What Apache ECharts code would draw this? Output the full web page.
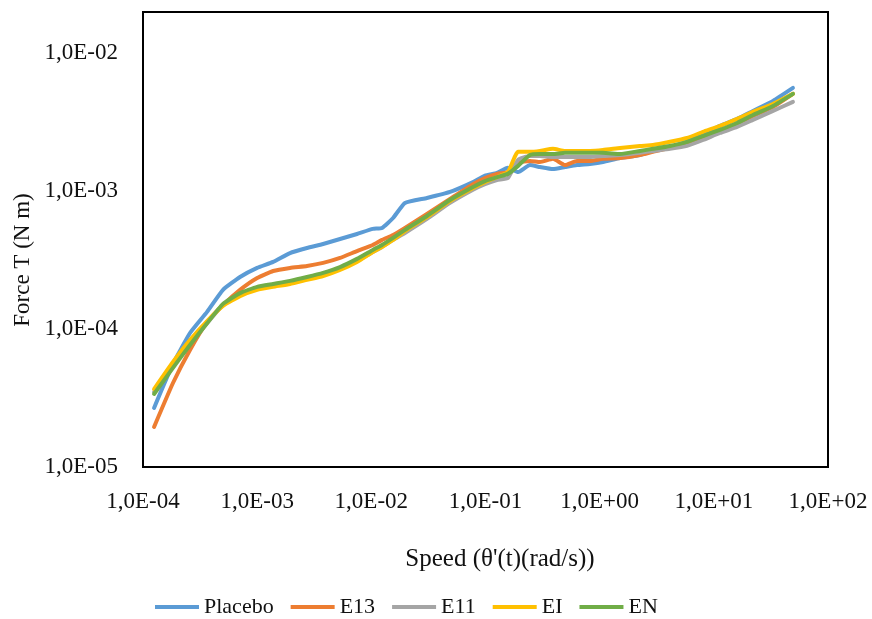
<!DOCTYPE html>
<html>
<head>
<meta charset="utf-8">
<script src="https://cdn.jsdelivr.net/npm/echarts@6/dist/echarts.min.js"></script>
<style>
html,body{margin:0;padding:0;background:#fff;}
#chart{width:872px;height:619px;}
</style>
</head>
<body>
<div id="chart"></div>
<script>
// Speed (rad/s) sample points
var speed = [1.25e-4, 1.83e-4, 2.58e-4, 3.64e-4, 5.02e-4, 7.08e-4, 1.0e-3, 1.38e-3, 1.94e-3, 2.73e-3,
  3.78e-3, 5.32e-3, 7.49e-3, 1.03e-2, 1.24e-2, 1.55e-2, 1.97e-2, 3.07e-2, 4.89e-2, 7.77e-2,
  9.9e-2, 0.126, 0.157, 0.193, 0.245, 0.300, 0.390, 0.497, 0.632, 0.822,
  1.07, 1.51, 2.25, 2.93, 4.13, 5.82, 8.04, 11.3, 16.0, 22.0, 33.0, 49.3];

var placebo = [2.68e-5, 5.58e-5, 9.35e-5, 1.33e-4, 1.92e-4, 2.38e-4, 2.77e-4, 3.06e-4, 3.55e-4, 3.86e-4,
  4.13e-4, 4.49e-4, 4.88e-4, 5.31e-4, 5.40e-4, 6.37e-4, 8.19e-4, 8.90e-4, 9.84e-4, 1.16e-3,
  1.29e-3, 1.35e-3, 1.47e-3, 1.37e-3, 1.54e-3, 1.49e-3, 1.44e-3, 1.49e-3, 1.54e-3, 1.57e-3,
  1.62e-3, 1.73e-3, 1.82e-3, 1.95e-3, 2.08e-3, 2.27e-3, 2.55e-3, 2.96e-3, 3.33e-3, 3.80e-3, 4.49e-3, 5.58e-3];

var e13 = [1.95e-5, 4.06e-5, 7.04e-5, 1.12e-4, 1.49e-4, 1.92e-4, 2.34e-4, 2.63e-4, 2.77e-4, 2.86e-4,
  3.01e-4, 3.27e-4, 3.67e-4, 4.06e-4, 4.42e-4, 4.80e-4, 5.40e-4, 6.81e-4, 8.75e-4, 1.12e-3,
  1.24e-3, 1.33e-3, 1.37e-3, 1.60e-3, 1.65e-3, 1.62e-3, 1.71e-3, 1.54e-3, 1.65e-3, 1.65e-3,
  1.71e-3, 1.73e-3, 1.82e-3, 1.92e-3, 2.05e-3, 2.23e-3, 2.46e-3, 2.72e-3, 3.06e-3, 3.50e-3, 4.06e-3, 5.05e-3];

var e11 = [3.50e-5, 5.40e-5, 7.79e-5, 1.10e-4, 1.49e-4, 1.79e-4, 1.98e-4, 2.08e-4, 2.19e-4, 2.30e-4,
  2.46e-4, 2.72e-4, 3.11e-4, 3.61e-4, 3.93e-4, 4.42e-4, 4.96e-4, 6.27e-4, 8.19e-4, 1.02e-3,
  1.12e-3, 1.20e-3, 1.24e-3, 1.68e-3, 1.79e-3, 1.79e-3, 1.76e-3, 1.76e-3, 1.76e-3, 1.76e-3,
  1.79e-3, 1.82e-3, 1.89e-3, 1.95e-3, 2.02e-3, 2.12e-3, 2.34e-3, 2.63e-3, 2.91e-3, 3.27e-3, 3.80e-3, 4.42e-3];

var ei = [3.67e-5, 5.77e-5, 8.32e-5, 1.14e-4, 1.47e-4, 1.73e-4, 1.92e-4, 2.02e-4, 2.12e-4, 2.27e-4,
  2.42e-4, 2.68e-4, 3.06e-4, 3.61e-4, 3.93e-4, 4.42e-4, 5.13e-4, 6.48e-4, 8.46e-4, 1.05e-3,
  1.16e-3, 1.26e-3, 1.37e-3, 1.92e-3, 1.92e-3, 1.95e-3, 2.02e-3, 1.95e-3, 1.95e-3, 1.95e-3,
  1.98e-3, 2.05e-3, 2.12e-3, 2.15e-3, 2.27e-3, 2.42e-3, 2.68e-3, 2.96e-3, 3.33e-3, 3.74e-3, 4.27e-3, 5.05e-3];

var en = [3.38e-5, 5.22e-5, 7.66e-5, 1.10e-4, 1.52e-4, 1.82e-4, 2.02e-4, 2.12e-4, 2.23e-4, 2.38e-4,
  2.55e-4, 2.81e-4, 3.22e-4, 3.74e-4, 4.06e-4, 4.57e-4, 5.22e-4, 6.59e-4, 8.61e-4, 1.07e-3,
  1.18e-3, 1.26e-3, 1.33e-3, 1.52e-3, 1.82e-3, 1.85e-3, 1.85e-3, 1.89e-3, 1.89e-3, 1.89e-3,
  1.89e-3, 1.85e-3, 1.95e-3, 2.02e-3, 2.12e-3, 2.27e-3, 2.50e-3, 2.77e-3, 3.11e-3, 3.55e-3, 4.13e-3, 5.05e-3];

var seriesNames = ['Placebo', 'E13', 'E11', 'EI', 'EN'];
var seriesData = [placebo, e13, e11, ei, en];
var seriesColors = ['#5B9BD5', '#ED7D31', '#A5A5A5', '#FFC000', '#70AD47'];

var xTitle = "Speed (\u03B8'(t)(rad/s))";
var yTitle = 'Force T (N m)';

var FONT = '"Liberation Serif", "Times New Roman", serif';

function fmtPow(v) {
  var l = Math.log10(v);
  var e = Math.round(l);
  if (Math.abs(l - e) > 1e-6) return '';
  var a = Math.abs(e);
  return '1,0E' + (e < 0 ? '-' : '+') + (a < 10 ? '0' : '') + a;
}

function pairs(xs, ys) {
  var out = [];
  for (var i = 0; i < xs.length; i++) out.push([xs[i], ys[i]]);
  return out;
}

var chart = echarts.init(document.getElementById('chart'), null, {renderer: 'canvas'});
var option = {
  backgroundColor: '#ffffff',
  animation: false,
  grid: {
    left: 143, right: 44, top: 12, bottom: 152,
    show: true, borderColor: '#000000', borderWidth: 2, backgroundColor: 'transparent'
  },
  xAxis: {
    type: 'log', logBase: 10, min: 1e-4, max: 1e2,
    axisLine: {show: false}, axisTick: {show: false}, splitLine: {show: false},
    axisLabel: {formatter: fmtPow, fontFamily: FONT, fontSize: 23, color: '#111', margin: 23,
      showMinLabel: true, showMaxLabel: true}
  },
  yAxis: {
    type: 'log', logBase: 10, min: 1e-5, max: 0.0198,
    axisLine: {show: false}, axisTick: {show: false}, splitLine: {show: false},
    axisLabel: {formatter: fmtPow, fontFamily: FONT, fontSize: 23, color: '#111', margin: 25,
      showMinLabel: true, showMaxLabel: true}
  },
  legend: {
    left: 150, top: 591,
    icon: 'rect',
    itemWidth: 44, itemHeight: 4, itemGap: 17,
    textStyle: {fontFamily: FONT, fontSize: 22, color: '#111'},
    data: seriesNames
  },
  graphic: [
    {type: 'text', x: 500, y: 559,
      style: {text: xTitle, font: '25px ' + FONT, fill: '#111', textAlign: 'center', textVerticalAlign: 'middle'}},
    {type: 'text', x: 23, y: 260, rotation: Math.PI / 2,
      style: {text: yTitle, font: '23px ' + FONT, fill: '#111', textAlign: 'center', textVerticalAlign: 'middle'}}
  ],
  series: seriesNames.map(function (n, i) {
    return {
      name: n, type: 'line', data: pairs(speed, seriesData[i]),
      showSymbol: false, symbol: 'none',
      smooth: 0.15,
      lineStyle: {color: seriesColors[i], width: 4, cap: 'round', join: 'round'},
      itemStyle: {color: seriesColors[i]},
      z: 2 + i
    };
  })
};
chart.setOption(option);
</script>
</body>
</html>
